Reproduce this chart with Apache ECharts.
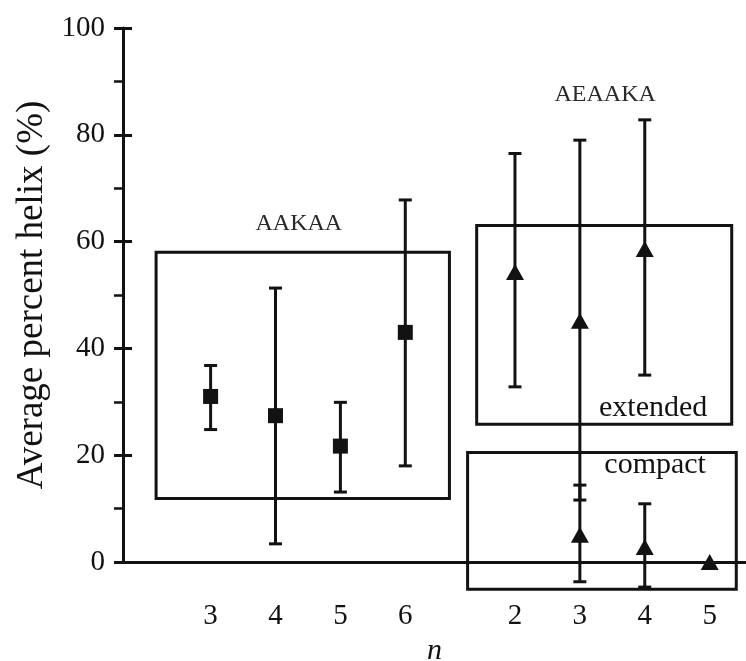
<!DOCTYPE html>
<html>
<head>
<meta charset="utf-8">
<script src="https://cdn.jsdelivr.net/npm/echarts@6/dist/echarts.min.js"></script>
<style>
  html, body { margin: 0; padding: 0; background: #fff; }
  #chart { width: 746px; height: 661px; }
</style>
</head>
<body>
<div id="chart"></div>
<script>
// AAKAA peptides (squares): n, x position on the axis, mean and error range
const nAAKAA = ['3', '4', '5', '6'];
const xAAKAA = [1.35, 2.35, 3.35, 4.35];
const meanAAKAA = [31.0, 27.4, 21.7, 43.0];
const lowAAKAA = [24.8, 3.4, 13.1, 18.0];
const highAAKAA = [36.8, 51.3, 29.9, 67.8];

// AEAAKA peptides (triangles)
const nAEAAKA = ['2', '3', '4', '5'];
const xAEAAKA = [6.04, 7.04, 8.04, 9.04];

// extended population: n = 2, 3, 4
const xExtended = [6.04, 7.04, 8.04];
const meanExtended = [54.3, 45.2, 58.6];
const lowExtended = [32.8, 11.6, 35.0];
const highExtended = [76.5, 79.0, 82.8];

// compact population: n = 3, 4, 5
const xCompact = [7.04, 8.04, 9.04];
const meanCompact = [5.1, 2.8, 0.0];
const lowCompact = [-3.7, -4.7, null];
const highCompact = [14.4, 10.9, null];

// y-axis ticks
const yTicks = [0, 20, 40, 60, 80, 100];

// group outlines [xStart, xEnd, yBottom, yTop] and their captions [x, y, text, size]
const groupBoxes = [
  [0.51, 5.03, 11.9, 58.0],
  [5.45, 9.38, 25.8, 63.0],
  [5.31, 9.45, -5.1, 20.5]
];
const groupCaptions = [
  [2.71, 63.3, 'AAKAA', 24],
  [7.43, 87.5, 'AEAAKA', 24],
  [8.17, 28.9, 'extended', 30],
  [8.20, 18.2, 'compact', 30]
];

const ink = '#121212';
const serif = '"Liberation Serif", "DejaVu Serif", serif';

function errorRows(xs, lows, highs) {
  const rows = [];
  xs.forEach((x, i) => {
    if (lows[i] != null && highs[i] != null) rows.push([x, lows[i], highs[i]]);
  });
  return rows;
}
const errorData = [].concat(
  errorRows(xAAKAA, lowAAKAA, highAAKAA),
  errorRows(xExtended, lowExtended, highExtended),
  errorRows(xCompact, lowCompact, highCompact)
);

const tickPositions = xAAKAA.concat(xAEAAKA);
const tickTexts = nAAKAA.concat(nAEAAKA);

function tickText(v) {
  let best = 0;
  tickPositions.forEach((p, i) => {
    if (Math.abs(p - v) < Math.abs(tickPositions[best] - v)) best = i;
  });
  return tickTexts[best];
}

const chart = echarts.init(document.getElementById('chart'), null, { renderer: 'canvas' });

const yBase = {
  type: 'value',
  min: yTicks[0],
  max: yTicks[yTicks.length - 1],
  interval: yTicks[1] - yTicks[0],
  splitLine: { show: false }
};

const markerStyle = { color: ink, opacity: 1 };

chart.setOption({
  animation: false,
  backgroundColor: '#ffffff',
  grid: { left: 123, right: 0, top: 28, bottom: 99, containLabel: false, outerBoundsMode: 'none' },
  xAxis: {
    type: 'value',
    min: 0,
    max: 9.6,
    name: 'n',
    nameLocation: 'middle',
    nameGap: 72,
    nameTextStyle: { fontFamily: serif, fontStyle: 'italic', fontSize: 30, color: ink },
    axisLine: { show: true, lineStyle: { color: ink, width: 3 } },
    axisTick: { show: false },
    splitLine: { show: false },
    axisLabel: {
      customValues: tickPositions,
      formatter: tickText,
      fontFamily: serif,
      fontSize: 29,
      color: ink,
      margin: 40
    }
  },
  yAxis: [
    Object.assign({}, yBase, {
      name: 'Average percent helix (%)',
      nameLocation: 'middle',
      nameGap: 69,
      nameTextStyle: { fontFamily: serif, fontSize: 37, color: ink },
      axisLine: { show: true, lineStyle: { color: ink, width: 3 } },
      axisTick: { show: true, inside: false, length: 9, lineStyle: { color: ink, width: 3 } },
      minorTick: { show: true, splitNumber: 2, length: 9, lineStyle: { color: ink, width: 2.5 } },
      axisLabel: { fontFamily: serif, fontSize: 29, color: ink, margin: 18 }
    }),
    Object.assign({}, yBase, {
      position: 'left',
      axisLine: { show: false },
      axisTick: { show: true, inside: true, length: 9, lineStyle: { color: ink, width: 3 } },
      axisLabel: { show: false }
    })
  ],
  series: [
    {
      // group outlines
      type: 'custom',
      coordinateSystem: 'cartesian2d',
      clip: false,
      silent: true,
      z: 1,
      data: groupBoxes.map((b, i) => [i]),
      renderItem: function (params, api) {
        const b = groupBoxes[params.dataIndex];
        const p0 = api.coord([b[0], b[3]]);
        const p1 = api.coord([b[1], b[2]]);
        return {
          type: 'rect',
          shape: { x: p0[0], y: p0[1], width: p1[0] - p0[0], height: p1[1] - p0[1] },
          style: { fill: 'none', stroke: ink, lineWidth: 3 }
        };
      }
    },
    {
      // group captions
      type: 'custom',
      coordinateSystem: 'cartesian2d',
      clip: false,
      silent: true,
      z: 2,
      data: groupCaptions.map((c) => [c[0], c[1]]),
      renderItem: function (params, api) {
        const c = groupCaptions[params.dataIndex];
        const p = api.coord([c[0], c[1]]);
        return {
          type: 'text',
          x: p[0],
          y: p[1],
          style: {
            text: c[2],
            fontFamily: serif,
            fontSize: c[3],
            fill: c[3] < 28 ? '#2a2a2a' : ink,
            align: 'center',
            verticalAlign: 'middle'
          }
        };
      }
    },
    {
      // error bars with end caps
      type: 'custom',
      coordinateSystem: 'cartesian2d',
      clip: false,
      silent: true,
      z: 3,
      data: errorData,
      renderItem: function (params, api) {
        const x = api.value(0);
        const lo = api.coord([x, api.value(1)]);
        const hi = api.coord([x, api.value(2)]);
        const half = 6.5;
        const style = { stroke: ink, lineWidth: 3 };
        return {
          type: 'group',
          children: [
            { type: 'line', shape: { x1: lo[0], y1: lo[1], x2: hi[0], y2: hi[1] }, style: style },
            { type: 'line', shape: { x1: hi[0] - half, y1: hi[1], x2: hi[0] + half, y2: hi[1] }, style: style },
            { type: 'line', shape: { x1: lo[0] - half, y1: lo[1], x2: lo[0] + half, y2: lo[1] }, style: style }
          ]
        };
      }
    },
    {
      name: 'AAKAA',
      type: 'scatter',
      clip: false,
      z: 4,
      symbol: 'rect',
      symbolSize: 15,
      itemStyle: markerStyle,
      data: xAAKAA.map((x, i) => [x, meanAAKAA[i]])
    },
    {
      name: 'AEAAKA extended',
      type: 'scatter',
      clip: false,
      z: 4,
      symbol: 'triangle',
      symbolSize: [18, 16],
      itemStyle: markerStyle,
      data: xExtended.map((x, i) => [x, meanExtended[i]])
    },
    {
      name: 'AEAAKA compact',
      type: 'scatter',
      clip: false,
      z: 4,
      symbol: 'triangle',
      symbolSize: [18, 16],
      itemStyle: markerStyle,
      data: xCompact.map((x, i) => [x, meanCompact[i]])
    }
  ]
});
</script>
</body>
</html>
